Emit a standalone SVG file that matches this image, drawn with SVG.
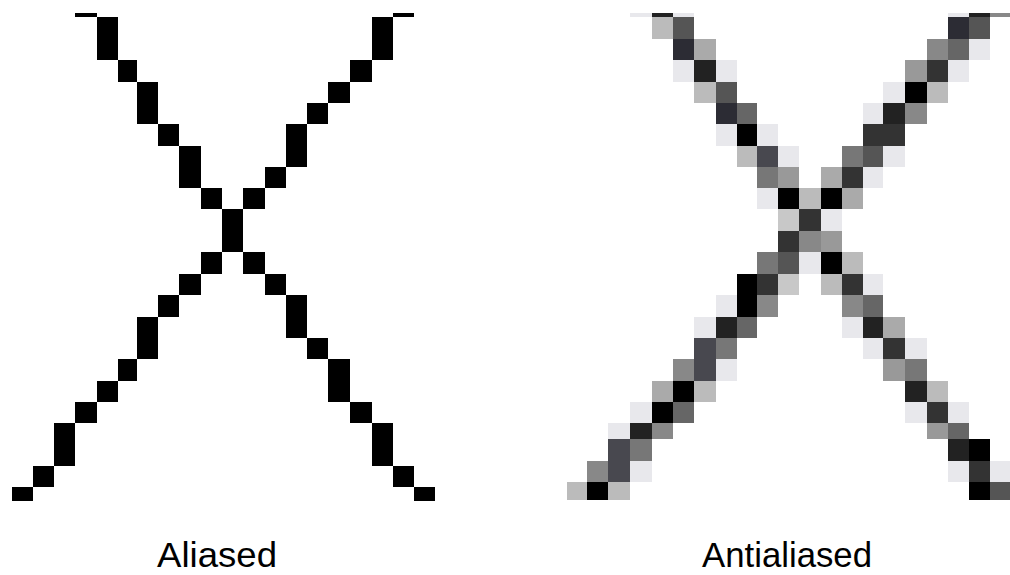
<svg xmlns="http://www.w3.org/2000/svg" width="1010" height="575" viewBox="0 0 1010 575">
<style>
rect{shape-rendering:crispEdges}
.k{fill:#000}.d1{fill:#222}.d2{fill:#2c2c34}.d3{fill:#333}.g4{fill:#48484f}.g5{fill:#555}.g6{fill:#666}.g7{fill:#777}.g8{fill:#888}.g9{fill:#999}.ga{fill:#aaa}.gb{fill:#bbb}.gc{fill:#c8c8c8}.vl{fill:#e8e8ec}
.lbl{font-family:"Liberation Sans",Arial,sans-serif;font-size:35px;fill:#000}
</style>
<rect x="0" y="0" width="1010" height="575" fill="#fff"/>
<g id="aliased">
<rect class="k" x="75.3" y="12.7" width="21.4" height="4.6"/>
<rect class="k" x="96.7" y="17.3" width="21.3" height="42.7"/>
<rect class="k" x="118" y="60" width="19" height="21.7"/>
<rect class="k" x="137" y="81.7" width="21" height="42.3"/>
<rect class="k" x="158" y="124" width="21.3" height="21.7"/>
<rect class="k" x="179.3" y="145.7" width="21.4" height="42.6"/>
<rect class="k" x="200.7" y="188.3" width="21" height="21"/>
<rect class="k" x="221.7" y="209.3" width="21.6" height="43"/>
<rect class="k" x="243.3" y="252.3" width="21.4" height="21.7"/>
<rect class="k" x="264.7" y="274" width="21.3" height="21"/>
<rect class="k" x="286" y="295" width="21" height="43"/>
<rect class="k" x="307" y="338" width="21.3" height="21"/>
<rect class="k" x="328.3" y="359" width="21.7" height="43"/>
<rect class="k" x="350" y="402" width="21.7" height="21.3"/>
<rect class="k" x="371.7" y="423.3" width="21" height="42.4"/>
<rect class="k" x="392.7" y="465.7" width="21.3" height="21.6"/>
<rect class="k" x="414" y="487.3" width="21.3" height="13.4"/>
<rect class="k" x="392.7" y="12.7" width="21.3" height="4.6"/>
<rect class="k" x="371.7" y="17.3" width="21" height="42.7"/>
<rect class="k" x="350" y="60" width="21.7" height="21.7"/>
<rect class="k" x="328.3" y="81.7" width="21.7" height="21.3"/>
<rect class="k" x="307" y="103" width="21.3" height="21"/>
<rect class="k" x="286" y="124" width="21" height="43"/>
<rect class="k" x="264.7" y="167" width="21.3" height="21.3"/>
<rect class="k" x="243.3" y="188.3" width="21.4" height="21"/>
<rect class="k" x="200.7" y="252.3" width="21" height="21.7"/>
<rect class="k" x="179.3" y="274" width="21.4" height="21"/>
<rect class="k" x="158" y="295" width="21.3" height="21.7"/>
<rect class="k" x="137" y="316.7" width="21" height="42.3"/>
<rect class="k" x="118" y="359" width="19" height="21.7"/>
<rect class="k" x="96.7" y="380.7" width="21.3" height="21.3"/>
<rect class="k" x="75.3" y="402" width="21.4" height="21.3"/>
<rect class="k" x="54" y="423.3" width="21.3" height="42.4"/>
<rect class="k" x="32.7" y="465.7" width="21.3" height="21.6"/>
<rect class="k" x="11.7" y="487.3" width="21" height="13.4"/>
</g>
<g id="antialiased">
<rect class="vl" x="630" y="12.7" width="21.7" height="4.6"/>
<rect class="d1" x="651.7" y="12.7" width="21.6" height="4.6"/>
<rect class="vl" x="673.3" y="12.7" width="21" height="4.6"/>
<rect class="vl" x="947.7" y="12.7" width="21" height="4.6"/>
<rect class="d1" x="968.7" y="12.7" width="21.3" height="4.6"/>
<rect class="g8" x="990" y="12.7" width="21" height="4.6"/>
<rect class="gb" x="651.7" y="17.3" width="21.6" height="21.4"/>
<rect class="g5" x="673.3" y="17.3" width="21" height="21.4"/>
<rect class="d2" x="947.7" y="17.3" width="21" height="21.4"/>
<rect class="g5" x="968.7" y="17.3" width="21.3" height="21.4"/>
<rect class="d2" x="673.3" y="38.7" width="21" height="21.3"/>
<rect class="ga" x="694.3" y="38.7" width="21.4" height="21.3"/>
<rect class="g8" x="926.7" y="38.7" width="21" height="21.3"/>
<rect class="g6" x="947.7" y="38.7" width="21" height="21.3"/>
<rect class="vl" x="968.7" y="38.7" width="21.3" height="21.3"/>
<rect class="vl" x="673.3" y="60" width="21" height="21.7"/>
<rect class="d1" x="694.3" y="60" width="21.4" height="21.7"/>
<rect class="vl" x="715.7" y="60" width="21.3" height="21.7"/>
<rect class="g9" x="905" y="60" width="21.7" height="21.7"/>
<rect class="d3" x="926.7" y="60" width="21" height="21.7"/>
<rect class="vl" x="947.7" y="60" width="21" height="21.7"/>
<rect class="gb" x="694.3" y="81.7" width="21.4" height="21.3"/>
<rect class="g5" x="715.7" y="81.7" width="21.3" height="21.3"/>
<rect class="vl" x="883.3" y="81.7" width="21.7" height="21.3"/>
<rect class="k" x="905" y="81.7" width="21.7" height="21.3"/>
<rect class="gb" x="926.7" y="81.7" width="21" height="21.3"/>
<rect class="d2" x="715.7" y="103" width="21.3" height="21"/>
<rect class="g6" x="737" y="103" width="19.5" height="21"/>
<rect class="vl" x="863" y="103" width="20.3" height="21"/>
<rect class="d1" x="883.3" y="103" width="21.7" height="21"/>
<rect class="g8" x="905" y="103" width="21.7" height="21"/>
<rect class="vl" x="715.7" y="124" width="21.3" height="21.7"/>
<rect class="k" x="737" y="124" width="19.5" height="21.7"/>
<rect class="vl" x="756.5" y="124" width="21.5" height="21.7"/>
<rect class="d3" x="863" y="124" width="20.3" height="21.7"/>
<rect class="d3" x="883.3" y="124" width="21.7" height="21.7"/>
<rect class="gb" x="737" y="145.7" width="19.5" height="21.3"/>
<rect class="g4" x="756.5" y="145.7" width="21.5" height="21.3"/>
<rect class="vl" x="778" y="145.7" width="21" height="21.3"/>
<rect class="g7" x="841.7" y="145.7" width="21.3" height="21.3"/>
<rect class="g5" x="863" y="145.7" width="20.3" height="21.3"/>
<rect class="vl" x="883.3" y="145.7" width="21.7" height="21.3"/>
<rect class="g7" x="756.5" y="167" width="21.5" height="21.3"/>
<rect class="g9" x="778" y="167" width="21" height="21.3"/>
<rect class="ga" x="820.5" y="167" width="21.2" height="21.3"/>
<rect class="d3" x="841.7" y="167" width="21.3" height="21.3"/>
<rect class="vl" x="863" y="167" width="20.3" height="21.3"/>
<rect class="vl" x="756.5" y="188.3" width="21.5" height="21"/>
<rect class="k" x="778" y="188.3" width="21" height="21"/>
<rect class="gb" x="799" y="188.3" width="21.5" height="21"/>
<rect class="k" x="820.5" y="188.3" width="21.2" height="21"/>
<rect class="ga" x="841.7" y="188.3" width="21.3" height="21"/>
<rect class="gc" x="778" y="209.3" width="21" height="21.7"/>
<rect class="d3" x="799" y="209.3" width="21.5" height="21.7"/>
<rect class="vl" x="820.5" y="209.3" width="21.2" height="21.7"/>
<rect class="d3" x="778" y="231" width="21" height="21.3"/>
<rect class="g8" x="799" y="231" width="21.5" height="21.3"/>
<rect class="g9" x="820.5" y="231" width="21.2" height="21.3"/>
<rect class="g7" x="756.5" y="252.3" width="21.5" height="21.7"/>
<rect class="g5" x="778" y="252.3" width="21" height="21.7"/>
<rect class="vl" x="799" y="252.3" width="21.5" height="21.7"/>
<rect class="k" x="820.5" y="252.3" width="21.2" height="21.7"/>
<rect class="gb" x="841.7" y="252.3" width="21.3" height="21.7"/>
<rect class="k" x="737" y="274" width="19.5" height="21"/>
<rect class="d3" x="756.5" y="274" width="21.5" height="21"/>
<rect class="gc" x="778" y="274" width="21" height="21"/>
<rect class="gb" x="820.5" y="274" width="21.2" height="21"/>
<rect class="d3" x="841.7" y="274" width="21.3" height="21"/>
<rect class="vl" x="863" y="274" width="20.3" height="21"/>
<rect class="vl" x="715.7" y="295" width="21.3" height="21.7"/>
<rect class="k" x="737" y="295" width="19.5" height="21.7"/>
<rect class="g8" x="756.5" y="295" width="21.5" height="21.7"/>
<rect class="g8" x="841.7" y="295" width="21.3" height="21.7"/>
<rect class="g6" x="863" y="295" width="20.3" height="21.7"/>
<rect class="vl" x="694.3" y="316.7" width="21.4" height="21.3"/>
<rect class="d1" x="715.7" y="316.7" width="21.3" height="21.3"/>
<rect class="g6" x="737" y="316.7" width="19.5" height="21.3"/>
<rect class="vl" x="841.7" y="316.7" width="21.3" height="21.3"/>
<rect class="d1" x="863" y="316.7" width="20.3" height="21.3"/>
<rect class="ga" x="883.3" y="316.7" width="21.7" height="21.3"/>
<rect class="g4" x="694.3" y="338" width="21.4" height="21"/>
<rect class="g7" x="715.7" y="338" width="21.3" height="21"/>
<rect class="vl" x="863" y="338" width="20.3" height="21"/>
<rect class="d3" x="883.3" y="338" width="21.7" height="21"/>
<rect class="vl" x="905" y="338" width="21.7" height="21"/>
<rect class="g8" x="673.3" y="359" width="21" height="21.7"/>
<rect class="g4" x="694.3" y="359" width="21.4" height="21.7"/>
<rect class="vl" x="715.7" y="359" width="21.3" height="21.7"/>
<rect class="g9" x="883.3" y="359" width="21.7" height="21.7"/>
<rect class="g7" x="905" y="359" width="21.7" height="21.7"/>
<rect class="ga" x="651.7" y="380.7" width="21.6" height="21.3"/>
<rect class="k" x="673.3" y="380.7" width="21" height="21.3"/>
<rect class="gb" x="694.3" y="380.7" width="21.4" height="21.3"/>
<rect class="d1" x="905" y="380.7" width="21.7" height="21.3"/>
<rect class="gb" x="926.7" y="380.7" width="21" height="21.3"/>
<rect class="vl" x="630" y="402" width="21.7" height="21.3"/>
<rect class="k" x="651.7" y="402" width="21.6" height="21.3"/>
<rect class="g6" x="673.3" y="402" width="21" height="21.3"/>
<rect class="vl" x="905" y="402" width="21.7" height="21.3"/>
<rect class="d3" x="926.7" y="402" width="21" height="21.3"/>
<rect class="vl" x="947.7" y="402" width="21" height="21.3"/>
<rect class="vl" x="608.3" y="423.3" width="21.7" height="16"/>
<rect class="d1" x="630" y="423.3" width="21.7" height="16"/>
<rect class="g8" x="651.7" y="423.3" width="21.6" height="16"/>
<rect class="g9" x="926.7" y="423.3" width="21" height="16"/>
<rect class="g6" x="947.7" y="423.3" width="21" height="16"/>
<rect class="g4" x="608.3" y="439.3" width="21.7" height="21.4"/>
<rect class="g7" x="630" y="439.3" width="21.7" height="21.4"/>
<rect class="d1" x="947.7" y="439.3" width="21" height="21.4"/>
<rect class="k" x="968.7" y="439.3" width="21.3" height="21.4"/>
<rect class="g8" x="587.3" y="460.7" width="21" height="21"/>
<rect class="g4" x="608.3" y="460.7" width="21.7" height="21"/>
<rect class="vl" x="630" y="460.7" width="21.7" height="21"/>
<rect class="vl" x="947.7" y="460.7" width="21" height="21"/>
<rect class="d3" x="968.7" y="460.7" width="21.3" height="21"/>
<rect class="vl" x="990" y="460.7" width="21" height="21"/>
<rect class="gb" x="566.7" y="481.7" width="20.6" height="18.3"/>
<rect class="k" x="587.3" y="481.7" width="21" height="18.3"/>
<rect class="gb" x="608.3" y="481.7" width="21.7" height="18.3"/>
<rect class="k" x="968.7" y="481.7" width="21.3" height="18.3"/>
<rect class="g5" x="990" y="481.7" width="21" height="18.3"/>
</g>
<g id="labels">
<text class="lbl" x="157" y="567" textLength="120" lengthAdjust="spacingAndGlyphs">Aliased</text>
<text class="lbl" x="702" y="567" textLength="170" lengthAdjust="spacingAndGlyphs">Antialiased</text>
</g>
</svg>
